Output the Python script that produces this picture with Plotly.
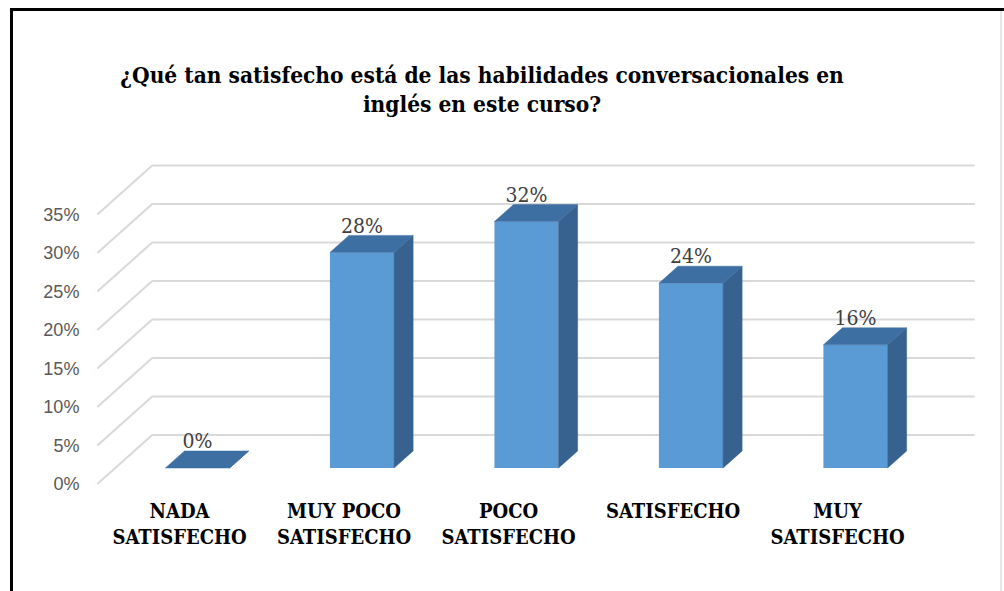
import plotly.graph_objects as go

# ---------------- data ----------------
categories = ["NADA<br>SATISFECHO", "MUY POCO<br>SATISFECHO", "POCO<br>SATISFECHO",
              "SATISFECHO", "MUY<br>SATISFECHO"]
values = [0, 28, 32, 24, 16]
y_ticks = [0, 5, 10, 15, 20, 25, 30, 35]
y_tick_labels = ["0%", "5%", "10%", "15%", "20%", "25%", "30%", "35%"]
title_text = "<b>¿Qué tan satisfecho está de las habilidades conversacionales en<br>inglés en este curso?</b>"

# ---------------- geometry (pseudo 3D) ----------------
W, H = 1004, 591
PX_CAT = 164.5      # pixels per category unit
PX_PCT = 7.7        # pixels per 1 %
X0_PX = 197.5       # pixel x of category 0 (bar front plane)
Y0_PX = 468.0       # pixel y of 0 % (bar front plane)
SLANT = 1.12        # horizontal px per vertical px of depth
D_FRONT, D_BAR, D_BACK = -16, 17, 33
BAR_W = 0.39

SERIF = "DejaVu Serif Condensed, DejaVu Serif"
SANS = "Liberation Sans Narrow, Liberation Sans"


def off(d):
    return SLANT * d / PX_CAT, d / PX_PCT


xr = [(0 - X0_PX) / PX_CAT, (W - X0_PX) / PX_CAT]
yr = [(Y0_PX - H) / PX_PCT, Y0_PX / PX_PCT]
fdx, fdy = off(D_FRONT)
bdx, bdy = off(D_BAR)
wdx, wdy = off(D_BACK)
n = len(categories)
idx = list(range(n))
xl, xrgt = -0.5, n - 0.5

GRID = "#D9D9D9"
FRONT = "#5B9BD5"
SIDE = "#37628F"
TOP = "#3E6FA3"

fig = go.Figure()

# gridlines on back wall + floor diagonals (below traces)
shapes = []
for v in y_ticks:
    shapes.append(dict(type="line", xref="x", yref="y", layer="below",
                       x0=xl + wdx, x1=xrgt + wdx, y0=v + wdy, y1=v + wdy,
                       line=dict(color=GRID, width=2)))
    shapes.append(dict(type="line", xref="x", yref="y", layer="below",
                       x0=xl + fdx, x1=xl + wdx, y0=v + fdy, y1=v + wdy,
                       line=dict(color=GRID, width=2)))

# bar front faces
fig.add_trace(go.Bar(x=idx, y=values, width=BAR_W, marker=dict(color=FRONT, line=dict(width=0)),
                     hoverinfo="skip", showlegend=False))

# bar side and top faces
sx, sy, tx, ty = [], [], [], []
for i, v in zip(idx, values):
    r = i + BAR_W / 2
    l = i - BAR_W / 2
    sx += [r, r + bdx, r + bdx, r, r, None]
    sy += [0, bdy, v + bdy, v, 0, None]
    tx += [l, r, r + bdx, l + bdx, l, None]
    ty += [v, v, v + bdy, v + bdy, v, None]
fig.add_trace(go.Scatter(x=sx, y=sy, fill="toself", fillcolor=SIDE, mode="lines",
                         line=dict(color=SIDE, width=0.5), hoverinfo="skip", showlegend=False))
fig.add_trace(go.Scatter(x=tx, y=ty, fill="toself", fillcolor=TOP, mode="lines",
                         line=dict(color=TOP, width=0.5), hoverinfo="skip", showlegend=False))

# data labels
fig.add_trace(go.Scatter(x=idx, y=[v + 25 / PX_PCT for v in values], mode="text",
                         text=[f"{v}%" for v in values],
                         textfont=dict(family=SERIF, size=21, color="#404040"),
                         hoverinfo="skip", showlegend=False))

# front-plane axes (tick labels)
fig.add_trace(go.Scatter(x=idx, y=values, xaxis="x2", yaxis="y2", mode="markers",
                         marker=dict(opacity=0), hoverinfo="skip", showlegend=False))

# frame
shapes += [
    dict(type="line", xref="paper", yref="paper", x0=10 / W, x1=1, y0=1 - 9.5 / H, y1=1 - 9.5 / H,
         line=dict(color="black", width=3)),
    dict(type="line", xref="paper", yref="paper", x0=11.5 / W, x1=11.5 / W, y0=0, y1=1 - 8 / H,
         line=dict(color="black", width=3)),
    dict(type="line", xref="paper", yref="paper", x0=1001 / W, x1=1001 / W, y0=0, y1=1 - 11 / H,
         line=dict(color="#D0D0D0", width=1)),
]

fig.update_layout(
    width=W, height=H, autosize=False,
    margin=dict(l=0, r=0, t=0, b=0),
    paper_bgcolor="white", plot_bgcolor="rgba(0,0,0,0)",
    showlegend=False,
    title=dict(text=title_text, x=482 / W, xanchor="center", y=1 - 83 / H, yanchor="middle",
               font=dict(family=SERIF, size=22.5, color="black")),
    xaxis=dict(range=xr, visible=False, fixedrange=True),
    yaxis=dict(range=yr, visible=False, fixedrange=True),
    xaxis2=dict(range=[a - fdx for a in xr], overlaying="x", anchor="free", position=(H - 497) / H,
                side="bottom", tickmode="array", tickvals=idx,
                ticktext=[f"<b>{c}</b>" for c in categories],
                tickfont=dict(family=SERIF, size=20, color="black"),
                showgrid=False, zeroline=False, showline=False, ticks="", fixedrange=True),
    yaxis2=dict(range=[a - fdy for a in yr], overlaying="y", anchor="free", position=97 / W,
                side="left", tickmode="array", tickvals=y_ticks, ticktext=y_tick_labels,
                tickfont=dict(family=SANS, size=18, color="#595959"),
                ticks="outside", ticklen=14, tickcolor="rgba(0,0,0,0)",
                showgrid=False, zeroline=False, showline=False, fixedrange=True),
)
fig.update_layout(shapes=shapes)

fig.write_html("out.html")
